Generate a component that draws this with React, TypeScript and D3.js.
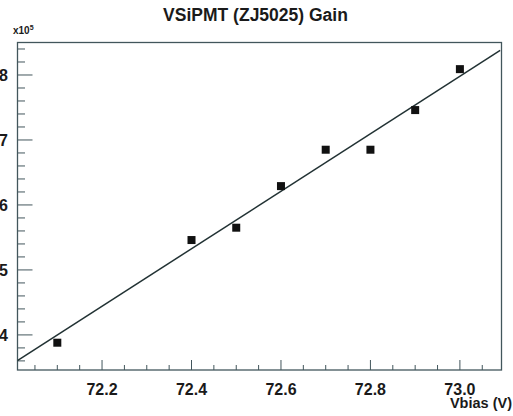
import React from "react";
import * as d3 from "d3";

const vbias = [72.1, 72.4, 72.5, 72.6, 72.7, 72.8, 72.9, 73.0];
const gain = [3.88, 5.46, 5.65, 6.29, 6.85, 6.85, 7.46, 8.09];
const fitV = [72.01, 73.09];
const fitG = [3.6, 8.38];
const xMajor = [72.2, 72.4, 72.6, 72.8, 73.0];
const yMajor = [4, 5, 6, 7, 8];

const W = 513, H = 416;
const L = 17.5, R = 501.5, T = 42.5, B = 370;

export default function App() {
  const x = d3.scaleLinear().domain([72.011, 73.093]).range([L, R]);
  const y = d3.scaleLinear().domain([3.46, 8.5]).range([B, T]);
  const xMinor = d3.range(72.05, 73.09, 0.05).filter(v => !xMajor.some(m => Math.abs(m - v) < 1e-6));
  const yMinor = d3.range(3.6, 8.5, 0.2).filter(v => !yMajor.some(m => Math.abs(m - v) < 1e-6));
  const line = d3.line<number>().x((_, i) => x(fitV[i])).y((d) => y(d));
  const frame = "#42565c";
  const font = "'Liberation Sans', Arial, Helvetica, sans-serif";
  return (
    <svg width={W} height={H} style={{ position: "absolute", left: 0, top: 0, background: "#fff" }} fontFamily={font}>
      <text x={255.5} y={21} textAnchor="middle" fontSize={17.5} fontWeight="bold" fill="#1a1a1a">VSiPMT (ZJ5025) Gain</text>
      <text x={13} y={34} fontSize={10} fontWeight="bold" fill="#1a1a1a">x10<tspan dy={-4} fontSize={7}>5</tspan></text>
      <defs>
        <clipPath id="clip"><rect x={L} y={T} width={R - L} height={B - T} /></clipPath>
      </defs>
      {xMajor.map(v => (
        <g key={"xm" + v}>
          <line x1={x(v)} x2={x(v)} y1={B} y2={B - 10} stroke={frame} strokeWidth={1} />
          <text x={x(v)} y={395} textAnchor="middle" fontSize={16} fontWeight="bold" fill="#1a1a1a">{v.toFixed(1)}</text>
        </g>
      ))}
      {xMinor.map(v => (
        <line key={"xn" + v} x1={x(v)} x2={x(v)} y1={B} y2={B - 5} stroke={frame} strokeWidth={1} />
      ))}
      {yMajor.map(v => (
        <g key={"ym" + v}>
          <line x1={L} x2={L + 15} y1={y(v)} y2={y(v)} stroke={frame} strokeWidth={1} />
          <text x={8} y={y(v) + 6} textAnchor="end" fontSize={16} fontWeight="bold" fill="#1a1a1a">{v}</text>
        </g>
      ))}
      {yMinor.map(v => (
        <line key={"yn" + v} x1={L} x2={L + 7.5} y1={y(v)} y2={y(v)} stroke={frame} strokeWidth={1} />
      ))}
      <rect x={L} y={T} width={R - L} height={B - T} fill="none" stroke={frame} strokeWidth={1.3} />
      <path d={line(fitG) || ""} fill="none" stroke="#223234" strokeWidth={1.5} clipPath="url(#clip)" />
      {vbias.map((v, i) => (
        <rect key={"p" + i} x={x(v) - 4} y={y(gain[i]) - 4} width={8} height={8} fill="#111" />
      ))}
      <text x={512} y={408} textAnchor="end" fontSize={14.5} fontWeight="bold" fill="#1a1a1a">Vbias (V)</text>
    </svg>
  );
}
